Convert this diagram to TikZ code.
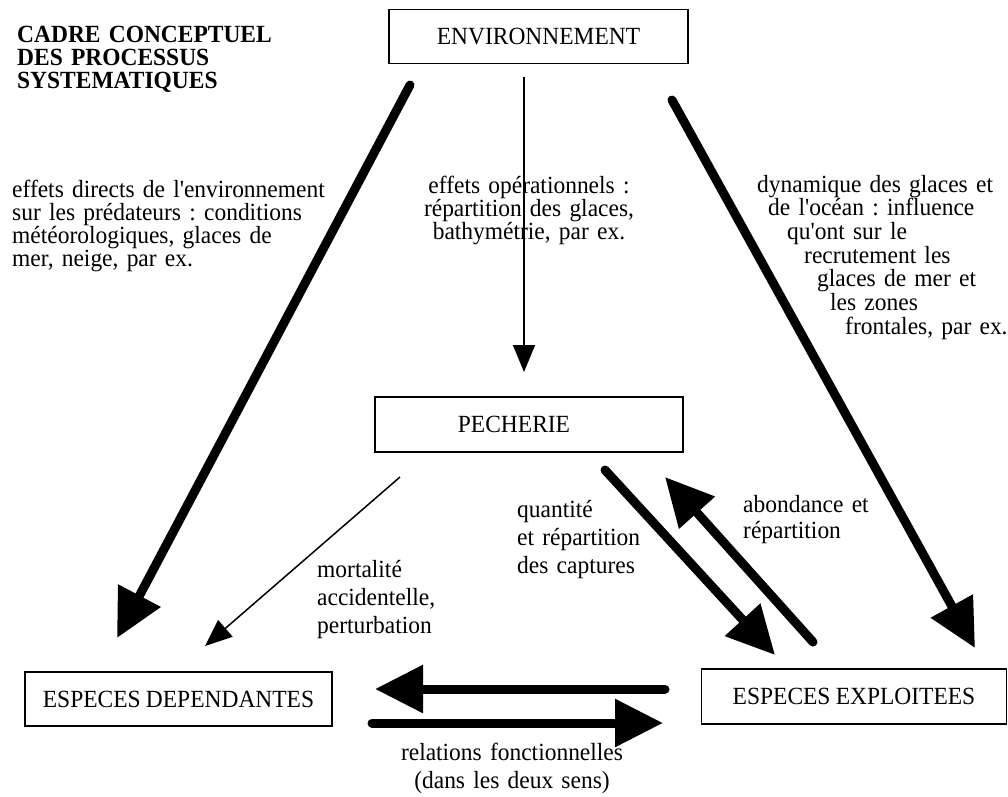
\documentclass[tikz,border=0pt]{standalone}
\usepackage{fontspec}
\setmainfont{Liberation Serif}[Ligatures=TeXOff, FakeStretch=0.95, WordSpace=0.9]
\usetikzlibrary{arrows.meta}
\tikzstyle{boite} = [draw, line width=1.5pt, minimum height=54pt, inner sep=0pt, font=\fontsize{24.7}{28}\selectfont]
\tikzstyle{bigarrow} = [-{Triangle[length=48pt,width=46pt]}, line width=9pt, line cap=round]
\tikzstyle{smallarrow} = [-{Triangle[length=27pt,width=22pt]}, line width=1.5pt]
\tikzstyle{lbl} = [inner sep=0pt, anchor=base west, align=left, text width=360pt]
\newcommand{\txt}[1]{\fontsize{24.7}{#1}\selectfont\frenchspacing}

\begin{document}
\begin{tikzpicture}[x=1pt,y=-1pt]
  \useasboundingbox (0,0) rectangle (1008,796);
  % boites
  \node[boite,minimum width=299pt] (env) at (538.5,36.5) {ENVIRONNEMENT};
  \node[boite,minimum width=308pt,minimum height=55pt] (pech) at (529,424.5) {PECHERIE\hspace*{30pt}};
  \node[boite,minimum width=307pt] (dep) at (178.5,699) {ESPECES DEPENDANTES};
  \node[boite,minimum width=305pt,minimum height=55pt] (exp) at (854,696.5) {ESPECES EXPLOITEES};
  % textes
  \node[lbl,font=\bfseries\txt{23}] (titre) at (17,42) {CADRE CONCEPTUEL\\DES PROCESSUS\\SYSTEMATIQUES};
  \node[lbl,font=\txt{23}] (directs) at (12,197) {effets directs de l'environnement\\sur les prédateurs : conditions\\météorologiques, glaces de\\mer, neige, par ex.};
  \node[lbl,anchor=base,align=center,text width=240pt,font=\txt{23}] (oper) at (529,193) {effets opérationnels :\\répartition des glaces,\\bathymétrie, par ex.};
  \node[lbl,font=\txt{23.7}] (dyn) at (757,192) {dynamique des glaces et\\\hspace*{11pt}de l'océan : influence\\\hspace*{30pt}qu'ont sur le\\\hspace*{47pt}recrutement les\\\hspace*{60pt}glaces de mer et\\\hspace*{73pt}les zones\\\hspace*{88pt}frontales, par ex.};
  \node[lbl,font=\txt{28}] (qte) at (517,517) {quantité\\et répartition\\des captures};
  \node[lbl,font=\txt{26}] (abond) at (743,512) {abondance et\\répartition};
  \node[lbl,font=\txt{28}] (mort) at (317,577) {mortalité\\accidentelle,\\perturbation};
  \node[lbl,anchor=base,align=center,text width=300pt,font=\txt{28}] (rel) at (512,760) {relations fonctionnelles\\(dans les deux sens)};
  % extremites des fleches
  \coordinate (envG) at (410,85);   \coordinate (depH) at (117,638);
  \coordinate (envM) at (524,77);   \coordinate (pechH) at (524,372);
  \coordinate (envD) at (672,100);  \coordinate (expH) at (975,648);
  \coordinate (pechG) at (400,477); \coordinate (depD) at (205,646);
  \coordinate (pechB) at (605,470); \coordinate (expG) at (775,655);
  \coordinate (expA) at (813,642);  \coordinate (pechD) at (665,477);
  \coordinate (expL) at (665,689);  \coordinate (depL) at (375,689);
  \coordinate (depB) at (372,723);  \coordinate (expB) at (663,723);
  % fleches
  \draw[bigarrow] (envG) -- (depH);
  \draw[smallarrow] (envM) -- (pechH);
  \draw[bigarrow] (envD) -- (expH);
  \draw[smallarrow] (pechG) -- (depD);
  \draw[bigarrow] (pechB) -- (expG);
  \draw[bigarrow] (expA) -- (pechD);
  \draw[bigarrow] (expL) -- (depL);
  \draw[bigarrow] (depB) -- (expB);
\end{tikzpicture}
\end{document}
